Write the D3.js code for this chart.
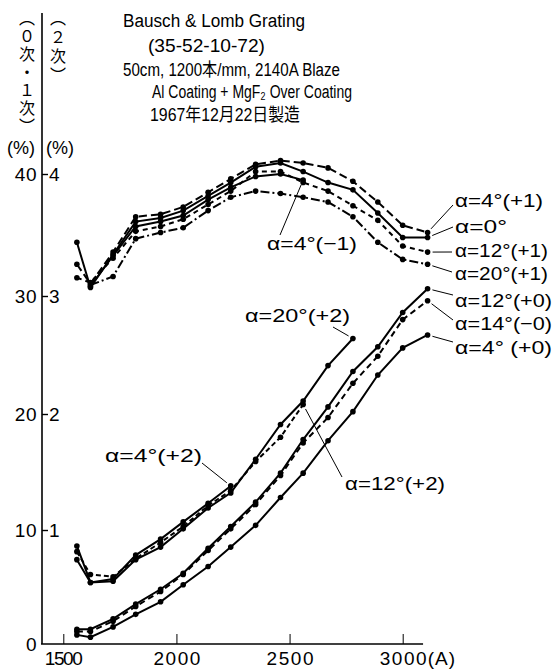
<!DOCTYPE html>
<html>
<head>
<meta charset="utf-8">
<script src="https://cdn.jsdelivr.net/npm/d3@7"></script>
<style>
  body { margin: 0; background: #fff; }
  svg text { font-family: "Liberation Sans", "Noto Sans CJK JP", sans-serif; fill: #000; }
  svg text.cjk { font-family: "Noto Sans CJK JP", sans-serif; }
  svg text.vert { writing-mode: vertical-rl; text-orientation: upright; }
</style>
</head>
<body>
<script>
// wavelengths (A) of the measured points, as read against the printed ticks
var wl = [1560, 1620, 1720, 1820, 1930, 2030, 2140, 2240, 2350, 2460, 2560, 2670, 2780, 2890, 3000, 3110];
var xTicks = [1500, 2000, 2500, 3000];
var yTicks = [0, 10, 20, 30, 40];     // 0th & 1st order (%)
var y2Ticks = [1, 2, 3, 4];           // 2nd order (%)

// 1st order efficiency (%)
var a4p1  = [32.6, 31.0, 33.6, 36.5, 36.7, 37.3, 38.5, 39.6, 40.8, 41.1, 40.9, 40.5, 39.4, 37.7, 35.8, 35.2];
var a0    = [34.4, 30.7, 33.4, 36.1, 36.4, 37.0, 38.2, 39.3, 40.6, 40.9, 40.2, 39.3, 38.7, 36.8, 34.8, 34.8];
var a12p1 = [31.5, 31.1, 33.1, 35.3, 35.7, 36.3, 37.5, 38.6, 40.2, 40.2, 39.3, 38.6, 37.4, 36.2, 34.1, 33.6];
var a20p1 = [null, 30.9, 31.6, 34.7, 35.2, 35.6, 37.0, 38.1, 38.6, 38.4, 38.1, 37.7, 36.5, 34.4, 33.0, 32.6];
var a4m1  = [null, 30.8, 33.3, 35.7, 36.1, 36.6, 37.9, 38.9, 39.8, 40.0, 39.5];
// 0th order efficiency (%)
var a12p0 = [1.3, 1.3, 2.2, 3.5, 4.8, 6.2, 8.4, 10.3, 12.4, 14.9, 17.8, 20.6, 23.6, 25.7, 28.6, 30.6];
var a14m0 = [1.1, 1.1, 2.0, 3.3, 4.6, 6.1, 8.2, 10.1, 12.2, 14.7, 17.5, 19.7, 22.6, 24.9, 28.0, 29.6];
var a4p0  = [0.8, 0.6, 1.5, 2.6, 3.7, 5.2, 6.8, 8.5, 10.4, 12.8, 14.9, 17.7, 20.2, 23.3, 25.6, 26.7];
// 2nd order efficiency (%)
var a4p2  = [0.86, 0.54, 0.57, 0.78, 0.92, 1.07, 1.23, 1.38];
var a20p2 = [0.74, 0.54, 0.55, 0.74, 0.85, 1.01, 1.19, 1.32, 1.61, 1.91, 2.11, 2.41, 2.64];
var a12p2 = [0.81, 0.61, 0.59, 0.75, 0.89, 1.03, 1.21, 1.34, 1.59, 1.80, 2.08];

var headerLines = ["Bausch & Lomb Grating", "(35-52-10-72)", "50cm, 1200本/mm, 2140A Blaze",
                   "Al Coating + MgF₂ Over Coating", "1967年12月22日製造"];

var W = 555, H = 672;
var svg = d3.select("body").append("svg").attr("width", W).attr("height", H);

// scales (the printed axis is slightly uneven, so y follows the printed ticks)
var x = d3.scaleLinear().domain([1500, 3000]).range([63.3, 402.7]);
var y = d3.scaleLinear().domain(yTicks).range([644, 530, 414, 296, 174]);
var y2 = d3.scaleLinear().domain([0, 1, 2, 3, 4]).range([644, 530, 414, 296, 174]);
var axX = 42;

// frame lines
svg.append("line").attr("x1", axX).attr("x2", axX).attr("y1", 13).attr("y2", y(0))
  .attr("stroke", "#000").attr("stroke-width", 1.6);
svg.append("line").attr("x1", axX - 1).attr("x2", x(3090)).attr("y1", y(0)).attr("y2", y(0))
  .attr("stroke", "#000").attr("stroke-width", 1.6);

// x axis
var gx = svg.append("g").attr("transform", "translate(0," + y(0) + ")")
  .call(d3.axisBottom(x).tickValues(xTicks).tickFormat(d3.format("d"))
    .tickSizeInner(-10).tickSizeOuter(0).tickPadding(8));
gx.select(".domain").remove();
gx.selectAll("line").attr("stroke", "#000").attr("stroke-width", 1);
gx.selectAll("text").style("font-size", "19px")
  .attr("textLength", function(d) { return d === 1500 ? 38 : 47; })
  .attr("lengthAdjust", "spacing");
svg.append("text").attr("x", x(3000) + 25).attr("y", y(0) + 21).style("font-size", "19px")
  .attr("letter-spacing", "1").text("(A)");

// left y axis (labels only)
var gl = svg.append("g").attr("transform", "translate(" + axX + ",0)")
  .call(d3.axisLeft(y).tickValues(yTicks).tickFormat(d3.format("d")).tickSize(0).tickPadding(5));
gl.select(".domain").remove();
gl.selectAll("text").style("font-size", "19px").attr("letter-spacing", "0.5");

// right-hand scale (2nd order) with ticks into the plot
var gr = svg.append("g").attr("transform", "translate(" + axX + ",0)")
  .call(d3.axisRight(y2).tickValues(y2Ticks).tickFormat(d3.format("d")).tickSize(6).tickPadding(1));
gr.select(".domain").remove();
gr.selectAll("line").attr("stroke", "#000").attr("stroke-width", 1.4);
gr.selectAll("text").style("font-size", "19px");

// vertical axis titles
svg.append("text").attr("class", "cjk vert").attr("x", 27).attr("y", 10)
  .attr("letter-spacing", "2").style("font-size", "16px").text("（０次・１次）");
svg.append("text").attr("class", "cjk vert").attr("x", 58).attr("y", 10)
  .attr("letter-spacing", "3").style("font-size", "16px").text("（２次）");
svg.append("text").attr("x", 21).attr("y", 154).attr("text-anchor", "middle")
  .style("font-size", "18px").text("(%)");
svg.append("text").attr("x", 60).attr("y", 154).attr("text-anchor", "middle")
  .style("font-size", "18px").text("(%)");

// header block
var hdr = [[123, 27, 182], [148, 52, 117], [123, 76, 217], [152, 98, 200], [150, 121, 150]];
headerLines.forEach(function(t, i) {
  svg.append("text").attr("x", hdr[i][0]).attr("y", hdr[i][1])
    .attr("textLength", hdr[i][2]).attr("lengthAdjust", "spacingAndGlyphs")
    .style("font-size", "18px").text(t);
});

// series
var series = [
  {id: "a4p1",  v: a4p1,  s: y,  dash: "8,4"},
  {id: "a0",    v: a0,    s: y,  dash: null},
  {id: "a12p1", v: a12p1, s: y,  dash: "5,4"},
  {id: "a20p1", v: a20p1, s: y,  dash: "9,3,2,3"},
  {id: "a4m1",  v: a4m1,  s: y,  dash: null},
  {id: "a12p0", v: a12p0, s: y,  dash: null},
  {id: "a14m0", v: a14m0, s: y,  dash: "6,4"},
  {id: "a4p0",  v: a4p0,  s: y,  dash: null},
  {id: "a4p2",  v: a4p2,  s: y2, dash: null},
  {id: "a20p2", v: a20p2, s: y2, dash: null},
  {id: "a12p2", v: a12p2, s: y2, dash: "5,3"}
];
var ends = {};
series.forEach(function(sr) {
  var pts = [];
  sr.v.forEach(function(val, i) { if (val != null) pts.push([wl[i], val]); });
  var line = d3.line().x(function(d) { return x(d[0]); }).y(function(d) { return sr.s(d[1]); });
  svg.append("path").datum(pts).attr("d", line).attr("fill", "none")
    .attr("stroke", "#000").attr("stroke-width", 2)
    .attr("stroke-dasharray", sr.dash);
  svg.append("g").selectAll("circle").data(pts).enter().append("circle")
    .attr("cx", function(d) { return x(d[0]); })
    .attr("cy", function(d) { return sr.s(d[1]); })
    .attr("r", 2.8).attr("fill", "#000");
  var last = pts[pts.length - 1];
  ends[sr.id] = [x(last[0]), sr.s(last[1])];
});

// labels: text box (left x, centre y, width) and leader end near the text
var labels = [
  {id: "a4p1",  t: "α=4°(+1)",  lx: 455, ly: 200, w: 88, px: 453, py: 205},
  {id: "a0",    t: "α=0°",      lx: 455, ly: 226, w: 52, px: 453, py: 227},
  {id: "a12p1", t: "α=12°(+1)", lx: 455, ly: 250, w: 93, px: 452, py: 252},
  {id: "a20p1", t: "α=20°(+1)", lx: 455, ly: 273, w: 93, px: 452, py: 272},
  {id: "a12p0", t: "α=12°(+0)", lx: 455, ly: 300, w: 97, px: 453, py: 295},
  {id: "a14m0", t: "α=14°(−0)", lx: 455, ly: 323, w: 97, px: 453, py: 320},
  {id: "a4p0",  t: "α=4° (+0)", lx: 455, ly: 347, w: 97, px: 453, py: 342},
  {id: "a4m1",  t: "α=4°(−1)",  lx: 267, ly: 243, w: 90, px: 280, py: 235},
  {id: "a20p2", t: "α=20°(+2)", lx: 245, ly: 315, w: 105, px: 333, py: 327},
  {id: "a4p2",  t: "α=4°(+2)",  lx: 105, ly: 455, w: 97, px: 202, py: 463},
  {id: "a12p2", t: "α=12°(+2)", lx: 345, ly: 483, w: 100, px: 342, py: 477}
];
labels.forEach(function(l) {
  var e = ends[l.id];
  var dx = l.px - e[0], dy = l.py - e[1], len = Math.sqrt(dx * dx + dy * dy);
  svg.append("line").attr("x1", e[0] + dx / len * 5).attr("y1", e[1] + dy / len * 5)
    .attr("x2", l.px).attr("y2", l.py).attr("stroke", "#000").attr("stroke-width", 1);
  svg.append("text").attr("x", l.lx).attr("y", l.ly).attr("dy", "0.36em")
    .attr("textLength", l.w).attr("lengthAdjust", "spacingAndGlyphs")
    .style("font-size", "19px").text(l.t);
});
</script>
</body>
</html>
